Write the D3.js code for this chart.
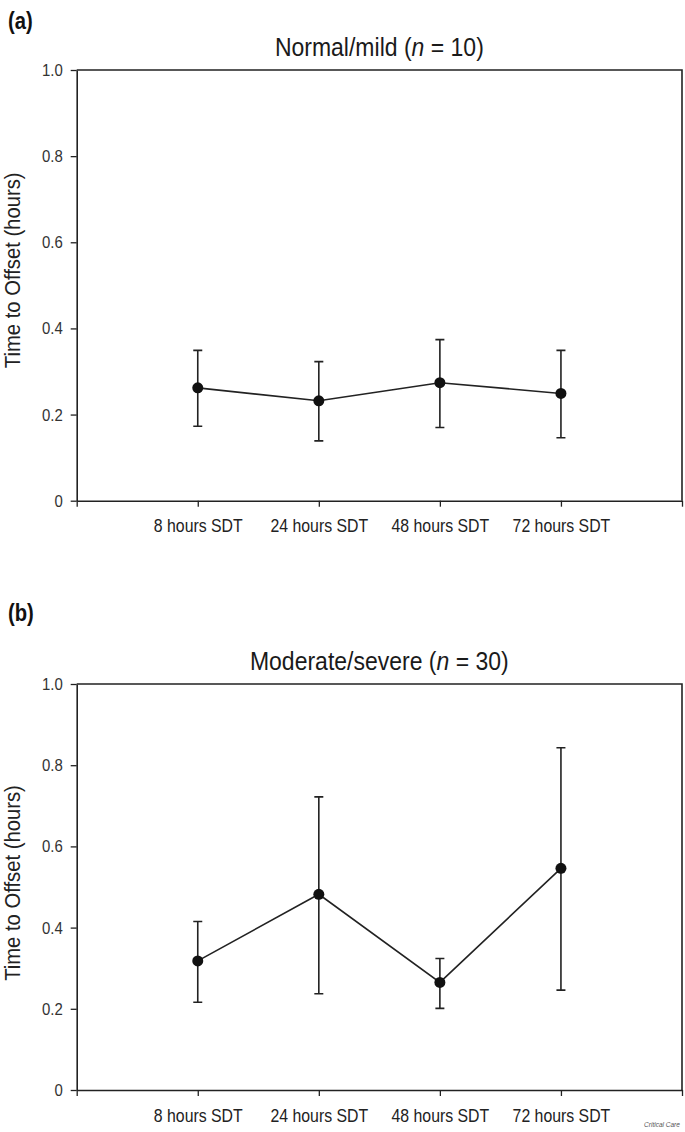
<!DOCTYPE html>
<html><head><meta charset="utf-8">
<script src="https://cdn.jsdelivr.net/npm/d3@7"></script>
<style>
body{margin:0;background:#fff;}
svg{display:block;font-family:"Liberation Sans",Arial,sans-serif;}
</style></head>
<body>
<svg id="c" width="685" height="1132"></svg>
<script>
const categories = ["8 hours SDT","24 hours SDT","48 hours SDT","72 hours SDT"];
const yTicks = [0,0.2,0.4,0.6,0.8,1.0];
const panelLabels = ["(a)","(b)"];
const panelTitles = [["Normal/mild (","n"," = 10)"],["Moderate/severe (","n"," = 30)"]];
// Panel (a): Normal/mild
const meanA  = [0.262,0.232,0.274,0.249];
const upperA = [0.349,0.323,0.374,0.349];
const lowerA = [0.173,0.139,0.170,0.146];
// Panel (b): Moderate/severe
const meanB  = [0.318,0.482,0.265,0.546];
const upperB = [0.415,0.722,0.324,0.843];
const lowerB = [0.216,0.237,0.201,0.246];

const svg = d3.select("#c");
const ink = "#222";
const SX = 0.88; // horizontal condensing of the narrow typeface

const panels = [
  {label:panelLabels[0], title:panelTitles[0], mean:meanA, upper:upperA, lower:lowerA, top:70, bottom:500.7, labelY:29, titleY:56, yTitleShift:-15},
  {label:panelLabels[1], title:panelTitles[1], mean:meanB, upper:upperB, lower:lowerB, top:684, bottom:1090, labelY:621, titleY:670, yTitleShift:-4}
];
const left = 76.7, right = 682;

panels.forEach(p => {
  const g = svg.append("g");
  const x = d3.scaleLinear().domain([0, categories.length+1]).range([left,right]);
  const y = d3.scaleLinear().domain([0,1]).range([p.bottom,p.top]);

  // panel label
  g.append("text").attr("transform",`translate(8,${p.labelY}) scale(${SX},1)`)
    .attr("font-size",23).attr("font-weight","bold").attr("fill","#111").text(p.label);
  // title
  const t = g.append("text").attr("transform",`translate(${(left+right)/2},${p.titleY}) scale(0.92,1)`)
    .attr("text-anchor","middle").attr("font-size",25).attr("fill","#1a1a1a");
  t.append("tspan").text(p.title[0]);
  t.append("tspan").attr("font-style","italic").text(p.title[1]);
  t.append("tspan").text(p.title[2]);

  // frame top/right
  g.append("path").attr("d",`M${left},${p.top}H${right}V${p.bottom}`).attr("fill","none")
    .attr("stroke",ink).attr("stroke-width",1.6);

  // y axis
  const ya = d3.axisLeft(y).tickValues(yTicks).tickSize(6).tickSizeOuter(0)
    .tickFormat(d => d===0 ? "0" : d3.format(".1f")(d));
  const yg = g.append("g").attr("transform",`translate(${left},0)`).call(ya);
  yg.select(".domain").attr("stroke",ink).attr("stroke-width",1.6);
  yg.selectAll(".tick line").attr("stroke",ink).attr("stroke-width",1.3);
  yg.selectAll(".tick text").attr("font-size",17).attr("fill","#333")
    .attr("transform",`scale(${SX},1)`).attr("x",-14/SX).attr("font-family","Liberation Sans, Arial, sans-serif");

  // x axis
  const xa = d3.axisBottom(x).tickValues(d3.range(0,categories.length+2)).tickSize(6).tickSizeOuter(0)
    .tickFormat(d => (d>=1 && d<=categories.length) ? categories[d-1] : "");
  const xg = g.append("g").attr("transform",`translate(0,${p.bottom})`).call(xa);
  xg.select(".domain").attr("stroke",ink).attr("stroke-width",1.6);
  xg.selectAll(".tick line").attr("stroke",ink).attr("stroke-width",1.3);
  xg.selectAll(".tick text").attr("font-size",18).attr("fill","#222").attr("y",19)
    .attr("transform",`scale(${SX},1)`).attr("font-family","Liberation Sans, Arial, sans-serif");

  // y axis title
  g.append("text").attr("transform",`translate(20,${(p.top+p.bottom)/2 + p.yTitleShift}) rotate(-90) scale(0.9,1)`)
    .attr("text-anchor","middle").attr("font-size",22.5).attr("fill","#222").text("Time to Offset (hours)");

  // error bars
  const idx = d3.range(categories.length);
  const cap = 4.5;
  const eb = g.append("g").attr("stroke",ink).attr("stroke-width",1.6).attr("fill","none");
  eb.selectAll("path").data(idx).join("path")
    .attr("d", i => {
      const cx = x(i+1), yu = y(p.upper[i]), yl = y(p.lower[i]);
      return `M${cx},${yu}V${yl}M${cx-cap},${yu}H${cx+cap}M${cx-cap},${yl}H${cx+cap}`;
    });
  // line
  g.append("path").datum(idx).attr("fill","none").attr("stroke",ink).attr("stroke-width",1.6)
    .attr("d", d3.line().x(i => x(i+1)).y(i => y(p.mean[i])));
  // points
  g.selectAll("circle.pt").data(idx).join("circle").attr("class","pt")
    .attr("cx", i => x(i+1)).attr("cy", i => y(p.mean[i])).attr("r",5.5).attr("fill","#111");
});

svg.append("text").attr("x",662).attr("y",1127).attr("text-anchor","middle").attr("font-size",6.5)
  .attr("font-style","italic").attr("fill","#555").text("Critical Care");
</script>
</body></html>
